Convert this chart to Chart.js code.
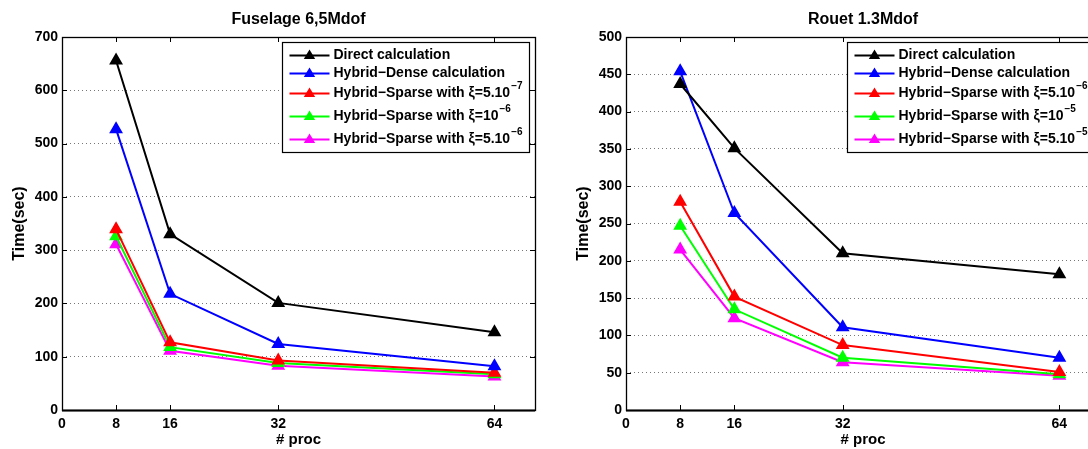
<!DOCTYPE html>
<html>
<head>
<meta charset="utf-8">
<script src="https://cdn.jsdelivr.net/npm/chart.js@4.4.1/dist/chart.umd.min.js"></script>
<style>
  html, body { margin: 0; padding: 0; background: #fff; overflow: hidden; width: 1088px; height: 449px; }
  .box { position: absolute; top: 0; height: 449px; }
  #w1 { left: 0; width: 544px; }
  #w2 { left: 544px; width: 580px; }
</style>
</head>
<body>
<div class="box" id="w1"><canvas id="c1"></canvas></div>
<div class="box" id="w2"><canvas id="c2"></canvas></div>
<script>
const procs = [8, 16, 32, 64];
const xTicks = [0, 8, 16, 32, 64];
const colors = ["#000000", "#0000ff", "#ff0000", "#00ff00", "#ff00ff"];

// legend text: [base, superscript]
const fuselageLabels = [
  ["Direct calculation", ""],
  ["Hybrid\u2212Dense calculation", ""],
  ["Hybrid\u2212Sparse with \u03be=5.10", "\u22127"],
  ["Hybrid\u2212Sparse with \u03be=10", "\u22126"],
  ["Hybrid\u2212Sparse with \u03be=5.10", "\u22126"],
];
const rouetLabels = [
  ["Direct calculation", ""],
  ["Hybrid\u2212Dense calculation", ""],
  ["Hybrid\u2212Sparse with \u03be=5.10", "\u22126"],
  ["Hybrid\u2212Sparse with \u03be=10", "\u22125"],
  ["Hybrid\u2212Sparse with \u03be=5.10", "\u22125"],
];

const fuselageDirect = [656, 330, 201, 146];
const fuselageDense = [527, 218, 124, 82];
const fuselageSparseA = [339, 127, 93, 70];
const fuselageSparseB = [326, 118, 88, 67];
const fuselageSparseC = [311, 111, 83, 63];

const rouetDirect = [437, 351, 210, 182];
const rouetDense = [454, 264, 111, 70];
const rouetSparseA = [279, 152, 87, 51];
const rouetSparseB = [247, 135, 70, 48];
const rouetSparseC = [215, 123, 64, 46];

const FONT = "'Liberation Sans', Arial, sans-serif";

function drawLabel(ctx, x, y, parts) {
  ctx.font = "bold 14px " + FONT;
  ctx.textBaseline = "middle";
  ctx.textAlign = "left";
  ctx.fillStyle = "#000";
  ctx.fillText(parts[0], x, y);
  if (parts[1]) {
    const w = ctx.measureText(parts[0]).width;
    ctx.font = "bold 10px " + FONT;
    ctx.fillText(parts[1], x + w + 1, y - 7);
  }
}

function triangle(ctx, x, y, r, color) {
  ctx.beginPath();
  ctx.moveTo(x, y - r);
  ctx.lineTo(x + r * 0.95, y + r * 0.6);
  ctx.lineTo(x - r * 0.95, y + r * 0.6);
  ctx.closePath();
  ctx.fillStyle = color;
  ctx.fill();
}

// MATLAB-like box, inward ticks and legend
const framePlugin = {
  id: "frame",
  afterDraw(chart) {
    const ctx = chart.ctx;
    const a = chart.chartArea;
    const xs = chart.scales.x, ys = chart.scales.y;
    ctx.save();
    ctx.strokeStyle = "#000";
    ctx.lineWidth = 1;
    ctx.beginPath();
    xTicks.forEach((v) => {
      const px = Math.round(xs.getPixelForValue(v)) + 0.5;
      ctx.moveTo(px, a.bottom); ctx.lineTo(px, a.bottom - 5);
      ctx.moveTo(px, a.top); ctx.lineTo(px, a.top + 5);
    });
    ys.ticks.forEach((t) => {
      const py = Math.round(ys.getPixelForValue(t.value)) + 0.5;
      ctx.moveTo(a.left, py); ctx.lineTo(a.left + 5, py);
      ctx.moveTo(a.right, py); ctx.lineTo(a.right - 5, py);
    });
    ctx.stroke();
    ctx.lineWidth = 1.3;
    ctx.strokeRect(Math.round(a.left) + 0.5, Math.round(a.top) + 0.5, Math.round(a.right - a.left), Math.round(a.bottom - a.top));
    ctx.lineWidth = 2;
    ctx.beginPath();
    ctx.moveTo(a.left, Math.round(a.bottom) + 0.5);
    ctx.lineTo(a.right, Math.round(a.bottom) + 0.5);
    ctx.stroke();

    // legend
    const labels = chart.options.plugins.frame.labels;
    const bx = Math.round(a.right - 253) + 0.5, by = Math.round(a.top + 5) + 0.5;
    const rows = [13, 31, 51, 74, 97];
    ctx.fillStyle = "#fff";
    ctx.fillRect(bx, by, 247, 110);
    ctx.lineWidth = 1.2;
    ctx.strokeStyle = "#000";
    ctx.strokeRect(bx, by, 247, 110);
    labels.forEach((parts, i) => {
      const ry = by + rows[i];
      ctx.beginPath();
      ctx.strokeStyle = colors[i];
      ctx.lineWidth = 2;
      ctx.moveTo(bx + 7, ry); ctx.lineTo(bx + 47, ry);
      ctx.stroke();
      triangle(ctx, bx + 27, ry, 6, colors[i]);
      drawLabel(ctx, bx + 51, ry, parts);
    });
    ctx.restore();
  },
};

function makeChart(id, title, labels, series, yMax, yStep, padLeft, padRight) {
  return new Chart(document.getElementById(id), {
    type: "line",
    data: {
      datasets: series.map((vals, i) => ({
        label: labels[i][0],
        data: procs.map((p, j) => ({ x: p, y: vals[j] })),
        borderColor: colors[i],
        backgroundColor: colors[i],
        borderWidth: 2,
        pointStyle: "triangle",
        pointRadius: 6,
        pointHoverRadius: 6,
        tension: 0,
      })),
    },
    options: {
      responsive: true,
      maintainAspectRatio: false,
      animation: false,
      layout: { padding: { left: padLeft, right: padRight, top: 0, bottom: 0 } },
      plugins: {
        legend: { display: false },
        tooltip: { enabled: false },
        title: {
          display: true,
          fullSize: false,
          text: title,
          color: "#000",
          font: { family: FONT, size: 16, weight: "bold" },
          padding: { top: 10.4, bottom: 7.4 },
        },
        frame: { labels: labels },
      },
      scales: {
        x: {
          type: "linear",
          min: 0,
          max: 70,
          afterBuildTicks: (s) => { s.ticks = xTicks.map((v) => ({ value: v })); },
          afterFit: (s) => { s.height = 39; },
          grid: { display: false, drawTicks: false },
          border: { display: false },
          ticks: { color: "#000", padding: 6, font: { family: FONT, size: 14, weight: "bold" } },
          title: {
            display: true,
            text: "# proc",
            color: "#000",
            padding: { top: 0, bottom: 0 },
            font: { family: FONT, size: 15, weight: "bold" },
          },
        },
        y: {
          min: 0,
          max: yMax,
          afterFit: (s) => { s.width = 56; },
          grid: { color: "#777", lineWidth: 1, drawTicks: false },
          border: { display: false, dash: [1, 3] },
          ticks: { stepSize: yStep, color: "#000", padding: 4, font: { family: FONT, size: 14, weight: "bold" } },
          title: {
            display: true,
            text: "Time(sec)",
            color: "#000",
            padding: { top: 4.4, bottom: 4 },
            font: { family: FONT, size: 16, weight: "bold" },
          },
        },
      },
    },
    plugins: [framePlugin],
  });
}

makeChart("c1", "Fuselage 6,5Mdof", fuselageLabels,
  [fuselageDirect, fuselageDense, fuselageSparseA, fuselageSparseB, fuselageSparseC], 700, 100, 6, 9);
makeChart("c2", "Rouet 1.3Mdof", rouetLabels,
  [rouetDirect, rouetDense, rouetSparseA, rouetSparseB, rouetSparseC], 500, 50, 26, 24);
</script>
</body>
</html>
